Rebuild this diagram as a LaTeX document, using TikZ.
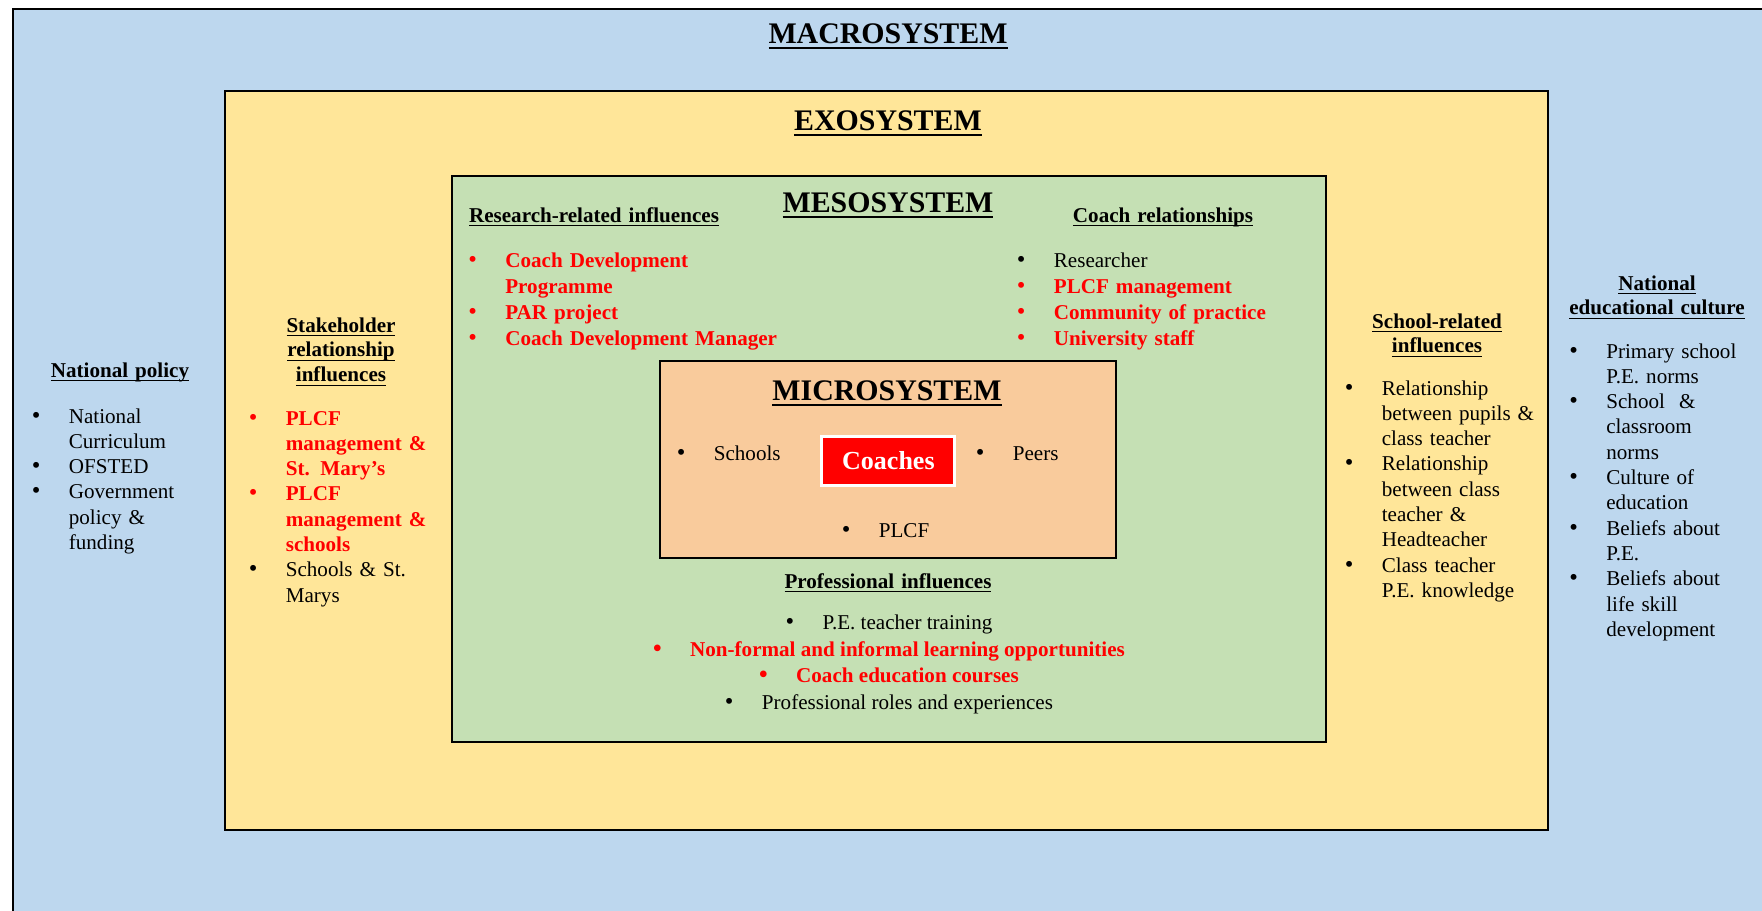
\documentclass[tikz,border=0pt]{standalone}
\usepackage{fontspec}
\setmainfont{Liberation Serif}
\usetikzlibrary{positioning}
\definecolor{ecoblue}{HTML}{BDD7EE}
\definecolor{ecoyellow}{HTML}{FFE699}
\definecolor{ecogreen}{HTML}{C5E0B4}
\definecolor{ecopeach}{HTML}{F9CB9C}
\definecolor{ecored}{HTML}{FF0000}
\newsavebox{\ulhdbox}
\newcommand{\ulhd}[1]{\leavevmode\sbox{\ulhdbox}{#1}\rlap{\rule[-0.2em]{\wd\ulhdbox}{0.07em}}\usebox{\ulhdbox}}
\newcommand{\sysbul}{\makebox[7.4mm][l]{\fontsize{14}{14}\selectfont\textbullet}}
\newcommand{\sysitem}[2][black]{{\hangindent=7.4mm\hangafter=1\noindent\color{#1}\sysbul#2\par}}
\tikzset{
  sysbox/.style={draw=black, line width=1.6pt},
  systitle/.style={inner sep=0pt, anchor=base, font=\fontsize{17}{20}\selectfont\bfseries},
  infohead/.style={inner sep=0pt, anchor=base, text width=60mm, align=center,
    font=\fontsize{12}{14.2}\selectfont\bfseries},
  bullist/.style={inner sep=0pt, anchor=base west, text width=80mm, align=left,
    font=\fontsize{12}{14.4}\selectfont},
  mesolist/.style={bullist, font=\fontsize{12}{14.8}\selectfont},
  bulline/.style={inner sep=0pt, anchor=base, font=\fontsize{12}{14.2}\selectfont},
  redline/.style={bulline, text=ecored, font=\fontsize{12}{14.2}\selectfont\bfseries},
  hub/.style={rectangle, fill=ecored, draw=white, line width=1.7pt, minimum width=26.6mm,
    minimum height=9.8mm, inner sep=0pt, text=white, font=\fontsize{14.8}{17}\selectfont\bfseries},
}

\begin{document}
\begin{tikzpicture}[x=0.2mm, y=-0.2mm]
    \useasboundingbox (0,0) rectangle (1762,910);
    \fill[white] (0,0) rectangle (1762,910);
    \begin{scope}
        \clip (0,0) rectangle (1762,910);
        \draw[sysbox, fill=ecoblue] (13,9) rectangle (1775,925);
    \end{scope}
    \draw[sysbox, fill=ecoyellow] (225,91) rectangle (1548,830);
    \draw[sysbox, fill=ecogreen] (452,176) rectangle (1326,742);
    \draw[sysbox, fill=ecopeach] (660,361) rectangle (1116,558);

    % system titles
    \node[systitle] (macro) at (888,43) {\ulhd{MACROSYSTEM}};
    \node[systitle] (exo) at (888,130) {\ulhd{EXOSYSTEM}};
    \node[systitle] (meso) at (888,212) {\ulhd{MESOSYSTEM}};
    \node[systitle] (micro) at (887,400) {\ulhd{MICROSYSTEM}};

    % macrosystem
    \node[infohead] (polhead) at (120,377) {\ulhd{National policy}};
    \node[bullist] (pol) at (31.5,423) {%
        \sysitem{National\newline Curriculum}
        \sysitem{OFSTED}
        \sysitem{Government\newline policy \&\newline funding}};
    \node[infohead] (culthead) at (1657,290) {\ulhd{National}\\\ulhd{educational culture}};
    \node[bullist] (cult) at (1569,358) {%
        \sysitem{Primary school\newline P.E. norms}
        \sysitem{School \ \&\newline classroom\newline norms}
        \sysitem{Culture of\newline education}
        \sysitem{Beliefs about\newline P.E.}
        \sysitem{Beliefs about\newline life skill\newline development}};

    % exosystem
    \node[infohead] (stakehead) at (341,332) {\ulhd{Stakeholder}\\\ulhd{relationship}\\\ulhd{influences}};
    \node[bullist] (stake) at (248.5,425) {%
        \sysitem[ecored]{\bfseries PLCF\newline management \&\newline St. Mary's}
        \sysitem[ecored]{\bfseries PLCF\newline management \&\newline schools}
        \sysitem{Schools \& St.\newline Marys}};
    \node[infohead] (schoolhead) at (1437,328) {\ulhd{School-related}\\\ulhd{influences}};
    \node[bullist] (school) at (1344.5,395) {%
        \sysitem{Relationship\newline between pupils \&\newline class teacher}
        \sysitem{Relationship\newline between class\newline teacher \&\newline Headteacher}
        \sysitem{Class teacher\newline P.E. knowledge}};

    % mesosystem
    \node[infohead] (reshead) at (594,222) {\ulhd{Research-related influences}};
    \node[mesolist] (res) at (468,267) {%
        \sysitem[ecored]{\bfseries Coach Development\newline Programme}
        \sysitem[ecored]{\bfseries PAR project}
        \sysitem[ecored]{\bfseries Coach Development Manager}};
    \node[infohead] (relhead) at (1163,222) {\ulhd{Coach relationships}};
    \node[mesolist] (rel) at (1016.5,267) {%
        \sysitem{Researcher}
        \sysitem[ecored]{\bfseries PLCF management}
        \sysitem[ecored]{\bfseries Community of practice}
        \sysitem[ecored]{\bfseries University staff}};
    \node[infohead] (profhead) at (888,588) {\ulhd{Professional influences}};
    \node[bulline] (prof1) at (889,629) {\sysbul P.E. teacher training};
    \node[redline] (prof2) at (889,656) {\sysbul Non-formal and informal learning opportunities};
    \node[redline] (prof3) at (889,682.5) {\sysbul Coach education courses};
    \node[bulline] (prof4) at (889,709) {\sysbul Professional roles and experiences};

    % microsystem
    \node[hub] (coaches) at (888.4,460.5) {Coaches};
    \node[bulline, anchor=base west] (schools) at (676.5,460) {\sysbul Schools};
    \node[bulline, anchor=base west] (peers) at (975.5,460) {\sysbul Peers};
    \node[bulline, anchor=base west] (plcf) at (841.5,537) {\sysbul PLCF};
\end{tikzpicture}
\end{document}
